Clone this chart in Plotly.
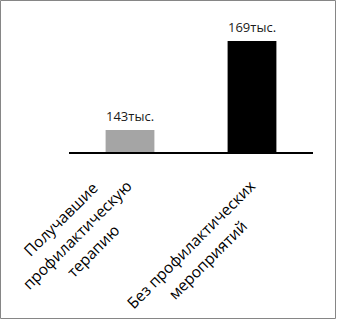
import plotly.graph_objects as go

categories = [["Получавшие", "профилактическую", "терапию"],
              ["Без профилактических", "мероприятий"]]
values = [143, 169]
value_suffix = "тыс."
bar_colors = ["#a5a5a5", "#000000"]

FONT = "Open Sans"
W, H = 337, 321
L, T = 69, 20
R = W - 313
B = H - 152
plot_w = W - L - R
plot_h = H - T - B

fig = go.Figure()
fig.add_trace(go.Bar(
    x=[0, 1], y=values, marker=dict(color=bar_colors, line=dict(width=0)),
    hoverinfo="skip", showlegend=False,
))

# value labels
for i, v in enumerate(values):
    fig.add_annotation(x=i, y=v, xref="x", yref="y", text=f"{v}{value_suffix}",
                       showarrow=False, yanchor="bottom", yshift=3,
                       font=dict(family=FONT, size=13, color="#1a1a1a"))

# category labels (rotated -45deg, centered lines)
block_shift = [(-53.5, -83), (-53, -100)]
line_gap = 23
d = 0.7071
for i, lines in enumerate(categories):
    bx, by = block_shift[i]
    n = len(lines)
    for k, line in enumerate(lines):
        off = (k - (n - 1) / 2) * line_gap
        fig.add_annotation(x=i, y=0, xref="x", yref="paper", text=line, showarrow=False,
                           textangle=-45, xanchor="center", yanchor="middle",
                           xshift=bx + off * d, yshift=by - off * d,
                           font=dict(family=FONT, size=15.5, color="#000000"))

# chart border
def px_x(p):
    return (p - L) / plot_w

def px_y(p):
    return (T + plot_h - p) / plot_h

fig.add_shape(type="rect", xref="paper", yref="paper",
              x0=px_x(0.5), x1=px_x(335.5), y0=px_y(318.5), y1=px_y(0.5),
              line=dict(color="#868686", width=1), layer="below")

fig.update_layout(
    width=W, height=H,
    margin=dict(l=L, r=R, t=T, b=B, pad=0),
    paper_bgcolor="white", plot_bgcolor="white",
    bargap=0.6,
    xaxis=dict(range=[-0.5, 1.5], showticklabels=False, ticks="", showgrid=False,
               zeroline=False, showline=True, linecolor="#000000", linewidth=1.5),
    yaxis=dict(range=[136.57, 175.15], visible=False, showgrid=False, zeroline=False),
    font=dict(family=FONT),
)

fig.write_html("out.html", config={"displayModeBar": False},
               post_script="document.body.style.margin='0';document.body.style.overflow='hidden';")
